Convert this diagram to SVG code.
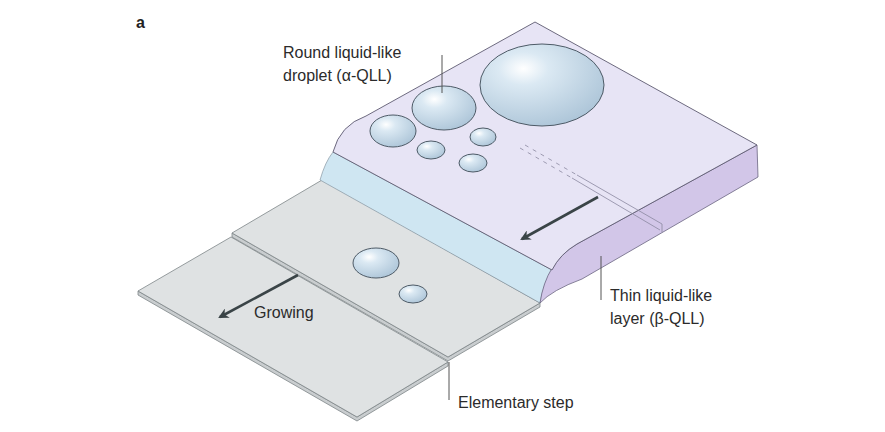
<svg xmlns="http://www.w3.org/2000/svg" width="885" height="432" viewBox="0 0 885 432">
<defs>
<style>
.t{font-family:"Liberation Sans",Arial,sans-serif;font-size:16px;fill:#2b2b2b}
.ln{stroke:#555;stroke-width:1;fill:none}
.sh{fill:#dfe2e3;stroke:#7d8588;stroke-width:0.8}
.ed{fill:#c9cdcf;stroke:#7d8588;stroke-width:0.8}
.dr{fill:url(#dg);stroke:#4d5a66;stroke-width:1}
.ar{stroke:#3a4447;stroke-width:2.6;fill:none;marker-end:url(#ah)}
</style>
<radialGradient id="dg" cx="0.35" cy="0.3" r="0.8">
<stop offset="0" stop-color="#ffffff"/><stop offset="0.25" stop-color="#dbe9f3"/><stop offset="1" stop-color="#a9c2d6"/>
</radialGradient>
<marker id="ah" viewBox="0 0 10 10" refX="8" refY="5" markerWidth="4" markerHeight="4" orient="auto"><path d="M0,0 L10,5 L0,10 L3,5 Z" fill="#3a4447"/></marker>
</defs>
<rect width="885" height="432" fill="#fff"/>
<text x="136" y="28" style="font-family:'Liberation Sans',Arial,sans-serif;font-size:16px;font-weight:bold" fill="#222">a</text>
<g id="bottom-terrace">
<path class="ed" d="M138,291 L357,417 L448,362 L448,366 L357,421 L138,295 Z"/>
<path class="sh" d="M138,291 L231,237 L448,362 L357,417 Z"/>
</g>
<g id="middle-terrace">
<path class="ed" d="M232,233 L448,357 L540,303 L540,307 L448,361 L232,237 Z"/>
<path class="sh" d="M232,233 L322,180 L540,303 L448,357 Z"/>
</g>
<g id="upper-block">
<path d="M333,152 L552,270 Q543,285 540,303 L320,180 Q325,162 333,152 Z" fill="#cfe6f2" stroke="#7a8a95" stroke-width="0.6"/>
<path d="M757,145 L758,177 L582,279 Q552,290 540,303 Q546,262 577,244 Z" fill="#d2c6e8" stroke="#6a6480" stroke-width="0.8"/>
<path d="M333,152 Q340,125 366,116 L535,22 L757,145 L577,244 Q560,254 552,270 Z" fill="#e7e4f5" stroke="#5e5a70" stroke-width="0.9"/>
<path d="M520,148 L572,178" stroke="#8a88a0" stroke-width="0.8" stroke-dasharray="4,5" fill="none"/>
<path d="M525,145 L577,175" stroke="#8a88a0" stroke-width="0.8" stroke-dasharray="4,5" fill="none"/>
<path d="M572,178 L660,230 M577,175 L662,224 L662,232" stroke="#8a88a0" stroke-width="0.8" fill="none"/>
</g>
<g id="droplets">
<ellipse class="dr" cx="542" cy="85" rx="62" ry="41"/>
<ellipse class="dr" cx="444" cy="108" rx="32" ry="22"/>
<ellipse class="dr" cx="393" cy="131" rx="23" ry="16"/>
<ellipse class="dr" cx="431" cy="150" rx="14" ry="9"/>
<ellipse class="dr" cx="483" cy="137" rx="13" ry="9"/>
<ellipse class="dr" cx="473" cy="163" rx="14" ry="9"/>
<ellipse class="dr" cx="376" cy="263" rx="23" ry="15"/>
<ellipse class="dr" cx="413" cy="294" rx="14" ry="9"/>
</g>
<g id="connectors">
<line class="ar" x1="598" y1="197" x2="522" y2="239"/>
<line class="ar" x1="298" y1="275" x2="220" y2="317"/>
<line class="ln" x1="442" y1="55" x2="442" y2="93"/>
<line class="ln" x1="601" y1="256" x2="601" y2="300"/>
<line class="ln" x1="449" y1="362" x2="449" y2="400"/>
</g>
<g id="labels">
<text class="t" x="283" y="58">Round liquid-like</text>
<text class="t" x="283" y="81">droplet (α-QLL)</text>
<text class="t" x="610" y="301">Thin liquid-like</text>
<text class="t" x="610" y="324">layer (β-QLL)</text>
<text class="t" x="254" y="318">Growing</text>
<text class="t" x="458" y="408">Elementary step</text>
</g>
</svg>
